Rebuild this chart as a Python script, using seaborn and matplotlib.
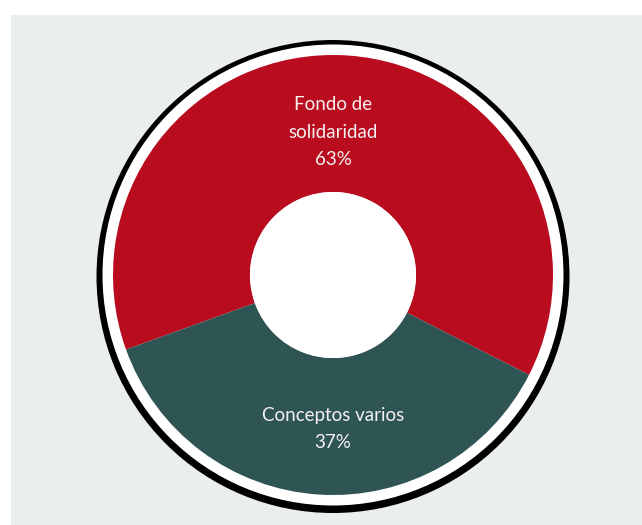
import matplotlib
matplotlib.use("Agg")
import matplotlib.pyplot as plt
import matplotlib.patches as mpatches
import seaborn as sns
from matplotlib import font_manager

sns.set_theme(style="white")

etiquetas = ["Fondo de\nsolidaridad", "Conceptos varios"]
porcentajes = [63, 37]
colores = ["#B90C1F", "#2F5454"]

nombres = {f.name for f in font_manager.fontManager.ttflist}
fuente = "Liberation Sans Narrow" if "Liberation Sans Narrow" in nombres else "Lato"
plt.rcParams['font.family'] = [fuente, 'DejaVu Sans']

fig = plt.figure(figsize=(6.42, 5.25), dpi=100)
fig.patch.set_facecolor("white")
fig.patches.append(mpatches.Rectangle((11 / 642, 0), 1, (525 - 15) / 525,
                                      transform=fig.transFigure,
                                      facecolor="#EBEEEF", edgecolor="none", zorder=-10))

ax = fig.add_axes([93 / 642, 10 / 525, 480 / 642, 480 / 525])
ax.set_zorder(1)
ax.patch.set_visible(False)
ax.set_xlim(-240, 240)
ax.set_ylim(-240, 240)
ax.set_aspect("equal")
ax.axis("off")

# aro negro y separacion blanca
ax.add_patch(mpatches.Circle((0, -1.5), 236.5, facecolor="black", edgecolor="none", zorder=1))
ax.add_patch(mpatches.Circle((0, 0), 230.5, facecolor="white", edgecolor="none", zorder=2))

wedges, _ = ax.pie(porcentajes, colors=colores, startangle=-27, counterclock=True,
                   radius=220, center=(0, 0), frame=False,
                   wedgeprops=dict(width=137, edgecolor="none"))
for w in wedges:
    w.set_zorder(3)
ax.add_patch(mpatches.Circle((0, 0), 83, facecolor="white", edgecolor="none", zorder=4))
ax.set_xlim(-240, 240)
ax.set_ylim(-240, 240)

textos = [f"{e}\n{p}%" for e, p in zip(etiquetas, porcentajes)]
ax.text(0, 143, textos[0], ha="center", va="center", color="#F4F1F1",
        fontsize=13.5, linespacing=1.75, zorder=5)
ax.text(0, -154, textos[1], ha="center", va="center", color="#F4F1F1",
        fontsize=13.5, linespacing=1.75, zorder=5)

fig.savefig("out.png", dpi=100)
